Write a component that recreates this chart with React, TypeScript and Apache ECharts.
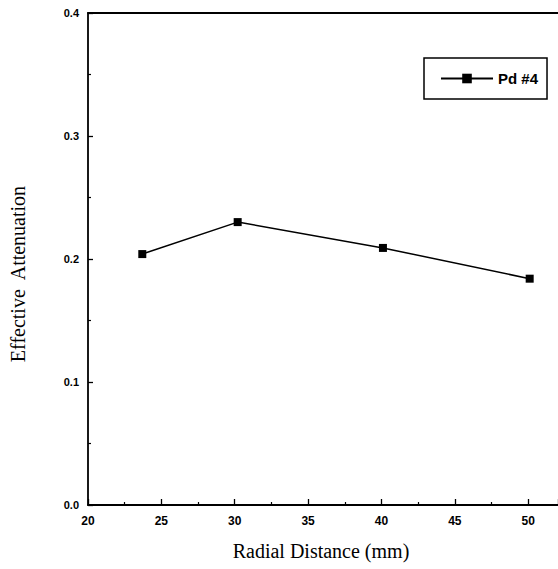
import React, { useEffect, useRef } from "react";
import * as echarts from "echarts";

const seriesName = "Pd #4";
const radialDistance = [23.7, 30.2, 40.1, 50.1];
const attenuation = [0.204, 0.23, 0.209, 0.184];
const xTicks = [20, 25, 30, 35, 40, 45, 50];

export default function App() {
  const ref = useRef<HTMLDivElement>(null);
  useEffect(() => {
    if (!ref.current) return;
    const chart = echarts.init(ref.current, null, { renderer: "svg" });
    const xMin = xTicks[0];
    const xMax = 52.03;
    chart.setOption({
      animation: false,
      backgroundColor: "#ffffff",
      grid: {
        left: 84,
        top: 13,
        right: 0,
        height: 492,
        show: false,
      },
      legend: {
        left: 424,
        top: 58,
        data: [seriesName],
        orient: "horizontal",
        borderColor: "#000",
        borderWidth: 1.5,
        padding: [13, 9, 13, 16],
        itemWidth: 52,
        itemHeight: 12,
        itemGap: 5,
        textStyle: {
          fontFamily: "Liberation Sans, Arial, sans-serif",
          fontWeight: "bold",
          fontSize: 15,
          color: "#000",
        },
      },
      xAxis: [
        {
          type: "value",
          min: xMin,
          max: xMax,
          interval: 5,
          name: "Radial Distance (mm)",
          nameLocation: "middle",
          nameGap: 36,
          nameTextStyle: {
            fontFamily: "Liberation Serif, Times New Roman, serif",
            fontSize: 20,
            color: "#000",
            padding: [0, 4, 0, 0],
          },
          axisLine: { show: true, onZero: false, lineStyle: { color: "#000", width: 1.8 } },
          axisTick: { show: true, inside: true, length: 6, lineStyle: { color: "#000", width: 1.3 } },
          minorTick: { show: true, splitNumber: 2, length: 3, lineStyle: { color: "#000", width: 1.2 } },
          splitLine: { show: false },
          axisLabel: {
            margin: 10,
            showMaxLabel: false,
            fontFamily: "Liberation Sans, Arial, sans-serif",
            fontWeight: "bold",
            fontSize: 12,
            color: "#000",
            formatter: (v: number) => (xTicks.includes(v) ? String(v) : ""),
          },
        },
        {
          type: "value",
          position: "top",
          min: xMin,
          max: xMax,
          interval: 5,
          axisLine: { show: true, onZero: false, lineStyle: { color: "#000", width: 1.8 } },
          axisTick: { show: false },
          axisLabel: { show: false },
          splitLine: { show: false },
        },
      ],
      yAxis: {
        type: "value",
        min: 0,
        max: 0.4,
        interval: 0.1,
        name: "Effective  Attenuation",
        nameLocation: "middle",
        nameGap: 60,
        nameRotate: 90,
        nameTextStyle: {
          fontFamily: "Liberation Serif, Times New Roman, serif",
          fontSize: 20,
          color: "#000",
          padding: [0, 30, 0, 0],
        },
        axisLine: { show: true, onZero: false, lineStyle: { color: "#000", width: 1.8 } },
        axisTick: { show: true, inside: true, length: 5, lineStyle: { color: "#000", width: 1.3 } },
        minorTick: { show: true, splitNumber: 2, length: 3, lineStyle: { color: "#000", width: 1.2 } },
        splitLine: { show: false },
        axisLabel: {
          margin: 9,
          fontFamily: "Liberation Sans, Arial, sans-serif",
          fontWeight: "bold",
          fontSize: 11,
          color: "#000",
          formatter: (v: number) => v.toFixed(1),
        },
      },
      series: [
        {
          name: seriesName,
          type: "line",
          xAxisIndex: 0,
          data: radialDistance.map((x, i) => [x, attenuation[i]]),
          symbol: "rect",
          symbolSize: 8,
          itemStyle: { color: "#000" },
          lineStyle: { color: "#000", width: 1.5 },
        },
      ],
    });
    return () => chart.dispose();
  }, []);
  return <div ref={ref} style={{ width: 558, height: 569, position: "absolute", left: 0, top: 0 }} />;
}
